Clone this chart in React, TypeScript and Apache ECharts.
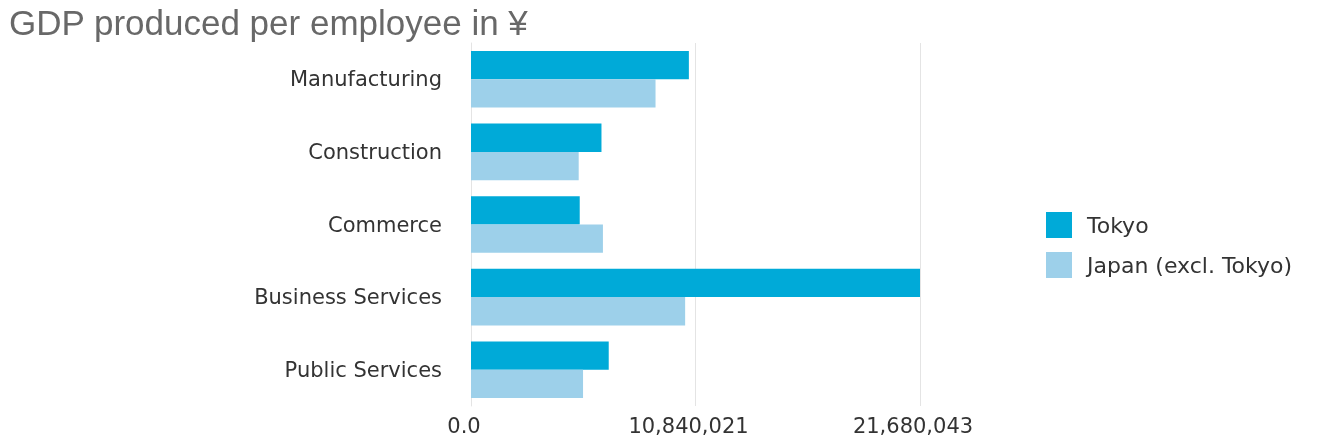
import React, { useEffect, useRef } from "react";
import * as echarts from "echarts";

const categories = ["Manufacturing", "Construction", "Commerce", "Business Services", "Public Services"];
const tokyo = [10520000, 6300000, 5250000, 21680043, 6650000];
const japanExTokyo = [8910000, 5200000, 6370000, 10340000, 5410000];
const axisMax = 21680043;
const seriesNames = ["Tokyo", "Japan (excl. Tokyo)"];
const title = "GDP produced per employee in ¥";

export default function App() {
  const ref = useRef<HTMLDivElement>(null);
  useEffect(() => {
    const chart = echarts.init(ref.current!, undefined, { renderer: "svg" });
    chart.setOption({
      animation: false,
      title: {
        text: title,
        left: 9,
        top: 5,
        padding: 0,
        textStyle: { fontFamily: "Liberation Sans", fontSize: 35, fontWeight: "normal", color: "#686868" },
      },
      legend: {
        orient: "vertical",
        left: 1046,
        top: 212,
        padding: 0,
        itemWidth: 26,
        itemHeight: 26,
        itemGap: 14,
        icon: "rect",
        data: seriesNames,
        textStyle: { fontFamily: "DejaVu Sans", fontSize: 22, color: "#333", padding: [0, 0, 0, 10] },
      },
      grid: { left: 471, right: 403, top: 43, bottom: 37, containLabel: false },
      xAxis: {
        type: "value",
        min: 0,
        max: axisMax,
        interval: axisMax / 2,
        axisLine: { show: false },
        axisTick: { show: false },
        splitLine: { show: true, lineStyle: { color: "#e4e4e4", width: 1 } },
        axisLabel: {
          fontFamily: "DejaVu Sans",
          fontSize: 21,
          color: "#333",
          margin: 9,
          padding: [0, 14, 0, 0],
          formatter: (v: number) => (v === 0 ? "0.0" : Math.floor(v).toLocaleString("en-US")),
        },
      },
      yAxis: {
        type: "category",
        data: categories,
        inverse: true,
        axisLine: { show: true, lineStyle: { color: "#e4e4e4" } },
        axisTick: { show: false },
        axisLabel: { fontFamily: "DejaVu Sans", fontSize: 21, color: "#333", margin: 29 },
      },
      series: [
        {
          name: seriesNames[0],
          type: "bar",
          data: tokyo,
          barGap: "0%",
          barCategoryGap: "22%",
          itemStyle: { color: "#00aad8" },
        },
        {
          name: seriesNames[1],
          type: "bar",
          data: japanExTokyo,
          itemStyle: { color: "#9dd0ea" },
        },
      ],
    });
    return () => chart.dispose();
  }, []);
  return <div ref={ref} style={{ position: "fixed", left: 0, top: 0, width: 1323, height: 443 }} />;
}
